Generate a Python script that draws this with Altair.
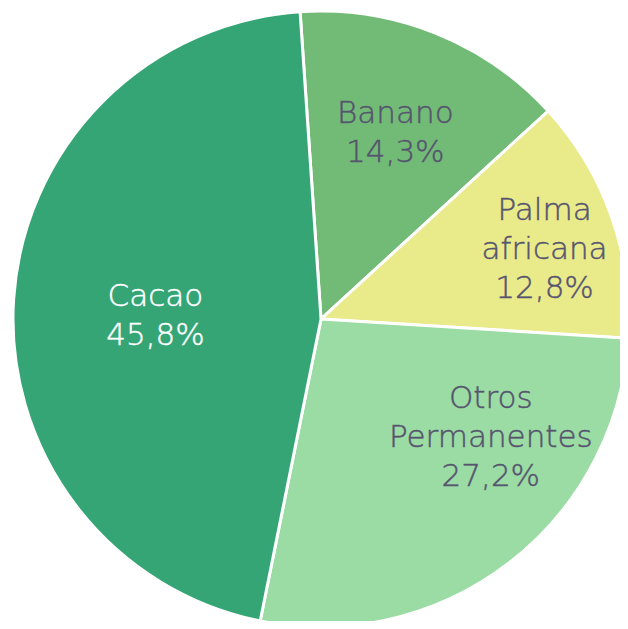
import altair as alt
import pandas as pd

categories = ["Banano", "Palma africana", "Otros Permanentes", "Cacao"]
values = [14.3, 12.8, 27.2, 45.8]
colors = ["#72BB76", "#E9EA8A", "#9ADCA3", "#35A576"]
text_colors = ["#56546F", "#56546F", "#56546F", "#FFFFFF"]
label_offsets = {"Banano": (0, -19), "Palma africana": (35, -41), "Otros Permanentes": (48, -79), "Cacao": (34, -9)}

df = pd.DataFrame({
    "cat": categories,
    "val": values,
    "order": list(range(len(categories))),
    "label": [c.split(" ") + [f"{v:.1f}%".replace(".", ",")] for c, v in zip(categories, values)],
})

start = -0.068
theta_scale = alt.Scale(range=[start, start + 2 * 3.141592653589793])
CX, CY = 313, 311

base = alt.Chart(df).encode(
    theta=alt.Theta("val:Q", stack=True, scale=theta_scale),
    order=alt.Order("order:Q"),
)

arcs = base.mark_arc(outerRadius=308, stroke="white", strokeWidth=3).encode(
    color=alt.Color("cat:N", scale=alt.Scale(domain=categories, range=colors), legend=None),
    x=alt.value(CX), y=alt.value(CY),
)

layers = [arcs]
for cat, tc in zip(categories, text_colors):
    dx, dy = label_offsets[cat]
    t = base.mark_text(
        radius=200, fontSize=31, font="DejaVu Sans", fontWeight=200, color=tc,
        stroke=tc, strokeWidth=0.45, dx=dx, dy=dy,
        align="center", baseline="middle", lineHeight=39,
    ).encode(
        text="label",
        x=alt.value(CX), y=alt.value(CY),
        opacity=alt.condition(alt.datum.cat == cat, alt.value(1), alt.value(0)),
    )
    layers.append(t)

chart = alt.layer(*layers).properties(
    width=612, height=613, padding=0, autosize="none",
).configure_view(stroke=None)

chart.save("out.html", embed_options={"renderer": "svg", "actions": False})
